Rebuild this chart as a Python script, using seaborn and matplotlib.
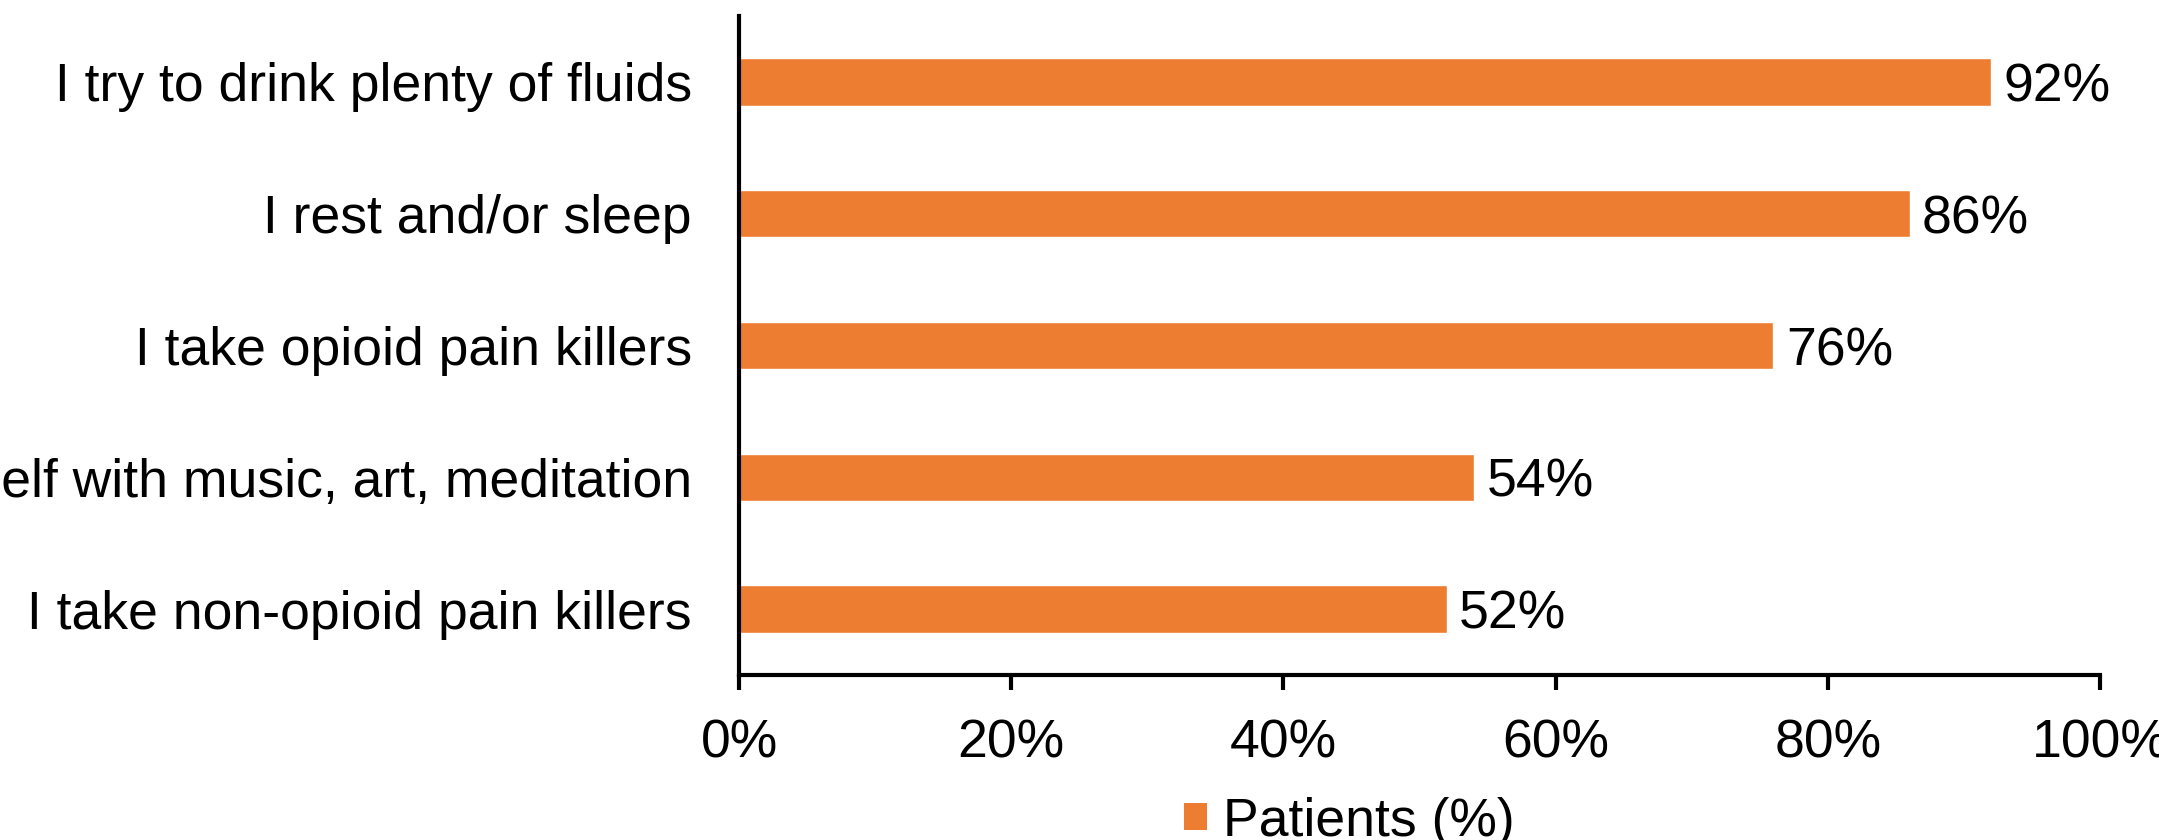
import matplotlib
matplotlib.use("Agg")
import matplotlib.pyplot as plt
import seaborn as sns
import pandas as pd
from matplotlib.patches import Patch
from matplotlib.ticker import FuncFormatter

categories = [
    "I try to drink plenty of fluids",
    "I rest and/or sleep",
    "I take opioid pain killers",
    "I distract myself with music, art, meditation",
    "I take non-opioid pain killers",
]
values = [92, 86, 76, 54, 52]
series_name = "Patients (%)"
xticks = [0, 20, 40, 60, 80, 100]

sns.set_theme(style="white")
plt.rcParams['font.family'] = ['Liberation Sans', 'DejaVu Sans']

df = pd.DataFrame({"cat": categories, "val": values})
color = "#ED7D31"
fs = 38.5

fig = plt.figure(figsize=(21.59, 8.4), dpi=100)
ax = fig.add_axes([0.3423, 0.1964, 0.9727 - 0.3423, 0.981 - 0.1964])
sns.barplot(data=df, y="cat", x="val", orient="h", color=color, width=0.36,
            saturation=1, ax=ax, order=categories)

ax.set_xlim(0, 100)
ax.set_ylim(4.5, -0.5)
ax.set_xticks(xticks)
ax.xaxis.set_major_formatter(FuncFormatter(lambda v, p: f"{int(v)}%"))
ax.set_xlabel("")
ax.set_ylabel("")
ax.tick_params(axis="x", labelsize=fs, length=11, width=3, direction="out",
               bottom=True, pad=20, colors="black")
ax.tick_params(axis="y", labelsize=fs, length=0, pad=34, colors="black")

for s in ["top", "right"]:
    ax.spines[s].set_visible(False)
for s in ["left", "bottom"]:
    ax.spines[s].set_visible(True)
    ax.spines[s].set_color("black")
    ax.spines[s].set_linewidth(3)

for cont in ax.containers:
    anns = ax.bar_label(cont, labels=[f"{v}%" for v in values], padding=9,
                        fontsize=fs, color="black")
    for a in anns:
        a.xyann = (9, -4)

handle = Patch(facecolor=color, edgecolor="none")
fig.legend([handle], [series_name], loc="center", bbox_to_anchor=(0.625, 0.022),
           frameon=False, fontsize=fs, handlelength=0.42, handleheight=0.42,
           handletextpad=0.3, borderpad=0, borderaxespad=0, labelcolor="black")

fig.savefig("out.png", dpi=100)
